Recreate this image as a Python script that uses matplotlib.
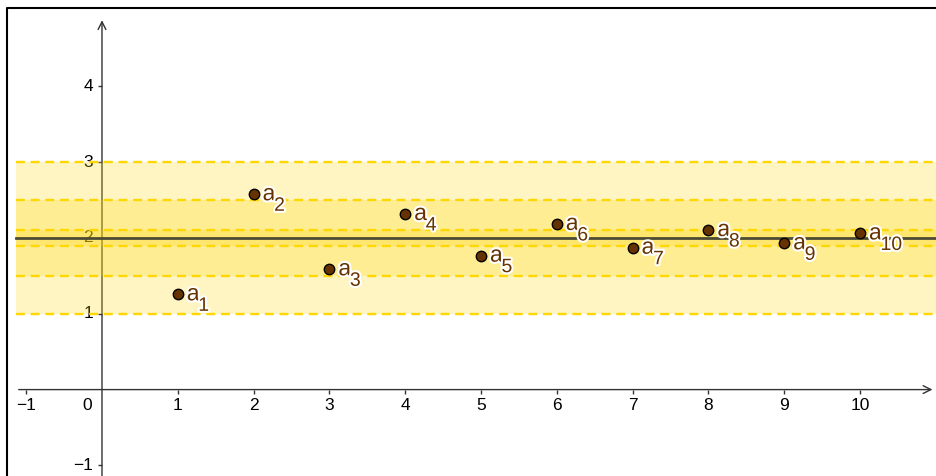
import matplotlib.pyplot as plt
import matplotlib.patheffects as pe
from matplotlib.lines import Line2D

# data
idx = [1, 2, 3, 4, 5, 6, 7, 8, 9, 10]
vals = [1.257, 2.577, 1.587, 2.317, 1.767, 2.185, 1.872, 2.105, 1.93, 2.06]
mean = 2.0
bands = [(1.0, 3.0), (1.5, 2.5), (1.9, 2.1)]
xticks = [-1, 0, 1, 2, 3, 4, 5, 6, 7, 8, 9, 10]
yticks = [-1, 1, 2, 3, 4]

plt.rcParams['font.family'] = ['Liberation Sans', 'DejaVu Sans']

fig = plt.figure(figsize=(9.36, 4.76), dpi=100)
ax = fig.add_axes([0, 0, 1, 1])
ax.axis('off')
x0, x1 = -1.3456, 11.003
ax.set_xlim(x0, x1)
ax.set_ylim(-1.14, 5.14)
xl = -1.135

# frame
fig.add_artist(Line2D([7.5/936, 7.5/936, 1], [0, 1-8/476, 1-8/476],
                      transform=fig.transFigure, color='black', lw=1.5))

# axes with arrows
axc = '#333333'
ax.annotate('', xy=(x1 - 0.01, 0), xytext=(xl, 0),
            arrowprops=dict(arrowstyle='->', lw=1, color=axc, mutation_scale=14), zorder=1)
ax.annotate('', xy=(0, 4.91), xytext=(0, -1.2),
            arrowprops=dict(arrowstyle='->', lw=1, color=axc, mutation_scale=14), zorder=1)
xt = [t for t in xticks if t != 0]
ax.plot(xt, [0]*len(xt), ls='none', marker=3, ms=3, color=axc, mew=1, zorder=1)
ax.plot([0]*len(yticks), yticks, ls='none', marker=0, ms=3, color=axc, mew=1, zorder=1)
for t in xticks:
    if t == 0:
        ax.annotate('0', (0, 0), xytext=(-10, -8), textcoords='offset pixels',
                    ha='right', va='top', fontsize=12.5, color='black', zorder=1)
    else:
        ax.annotate(str(t).replace('-', '\u2212'), (t, 0), xytext=(0, -8),
                    textcoords='offset pixels', ha='center', va='top',
                    fontsize=12.5, color='black', zorder=1)
for t in yticks:
    ax.annotate(str(t).replace('-', '\u2212'), (0, t), xytext=(-9, 0),
                textcoords='offset pixels', ha='right', va='center',
                fontsize=12.5, color='black', zorder=1)

# bands
for lo, hi in bands:
    ax.fill_between([xl, x1], lo, hi, color='#FFD700', alpha=0.24, lw=0, zorder=2)
    for yv in (lo, hi):
        ax.plot([xl, x1], [yv, yv], color='#FFD700', lw=1.7, dashes=(3.8, 2.4), zorder=3)
ax.plot([xl, x1], [mean, mean], color='#4d4a33', lw=2, zorder=4)

# points
ax.plot(idx, vals, ls='none', marker='o', ms=7.5, mfc='#663300', mec='black', mew=1, zorder=5)
halo = [pe.withStroke(linewidth=3, foreground='white')]
for xv, yv in zip(idx, vals):
    ax.annotate('a', (xv, yv), xytext=(9, -6), textcoords='offset pixels',
                ha='left', va='baseline', fontsize=16.5, color='#663300', zorder=6,
                path_effects=halo)
    ax.annotate(str(xv), (xv, yv), xytext=(20.5, -16.5), textcoords='offset pixels',
                ha='left', va='baseline', fontsize=14, color='#663300', zorder=6,
                path_effects=halo)

fig.savefig('out.png', dpi=100)
